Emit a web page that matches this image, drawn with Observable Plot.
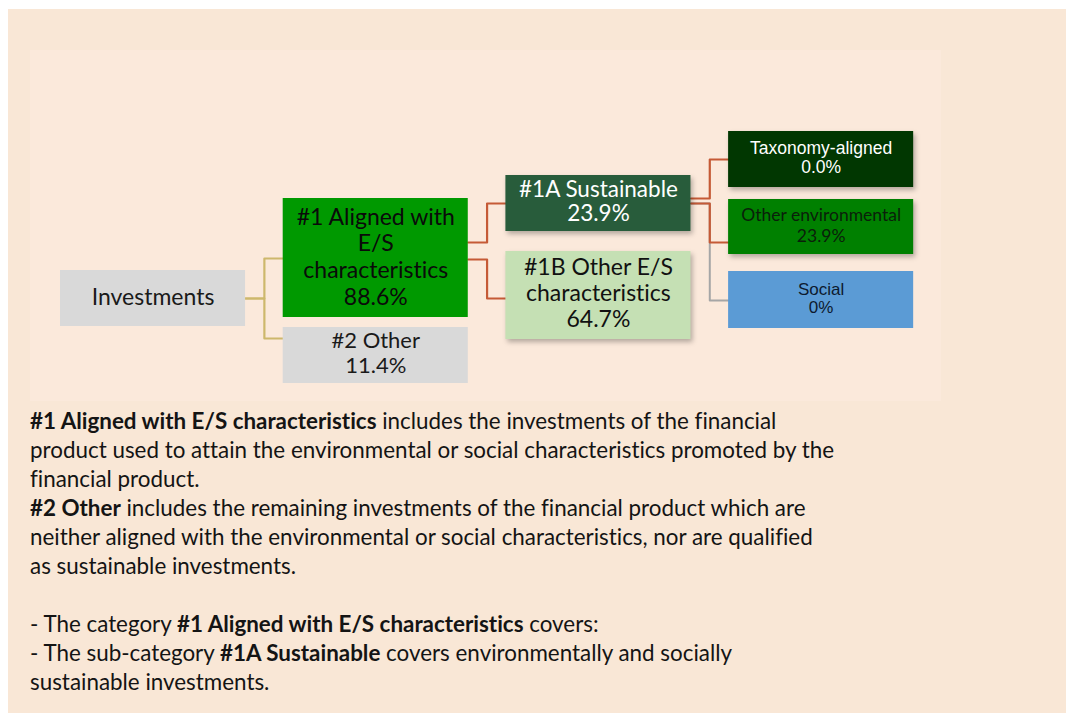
<!DOCTYPE html>
<html><head><meta charset="utf-8">
<script src="https://cdn.jsdelivr.net/npm/d3@7"></script>
<script src="https://cdn.jsdelivr.net/npm/@observablehq/plot@0.6"></script>
<style>
html,body{margin:0;padding:0;background:#fff;width:1068px;height:715px;overflow:hidden;}
#frame{position:absolute;left:8px;top:9px;width:1058px;height:704px;background:#f9e7d6;}
#inner{position:absolute;left:30px;top:50px;width:911px;height:351px;background:#fbe9db;}
#chart{position:absolute;left:0;top:0;}
#chart svg{font-variant-ligatures:none;}
#desc{position:absolute;left:30px;top:406px;font-family:Lato, sans-serif;font-size:22.4px;line-height:29px;color:#141414;white-space:nowrap;font-variant-ligatures:none;}
#desc b{font-weight:700;}
#desc div{height:29px;}
</style></head><body>
<div id="frame"></div><div id="inner"></div><div id="chart"></div>
<div id="desc">
<div><b>#1 Aligned with E/S characteristics</b> includes the investments of the financial</div>
<div>product used to attain the environmental or social characteristics promoted by the</div>
<div>financial product.</div>
<div><b>#2 Other</b> includes the remaining investments of the financial product which are</div>
<div>neither aligned with the environmental or social characteristics, nor are qualified</div>
<div>as sustainable investments.</div>
<div></div>
<div>- The category <b>#1 Aligned with E/S characteristics</b> covers:</div>
<div>- The sub-category <b>#1A Sustainable</b> covers environmentally and socially</div>
<div>sustainable investments.</div>
</div>
<script>
// ---- data ----
const nodeNames = ["Investments", "#1 Aligned with E/S characteristics", "#2 Other", "#1A Sustainable", "#1B Other E/S characteristics", "Taxonomy-aligned", "Other environmental", "Social"];
const nodeParents = [null, 0, 0, 1, 1, 3, 3, 3];
const nodeValues = [100, 88.6, 11.4, 23.9, 64.7, 0.0, 23.9, 0];
const nodeValueLabels = ["", "88.6%", "11.4%", "23.9%", "64.7%", "0.0%", "23.9%", "0%"];
const nodeNameLines = [["Investments"], ["#1 Aligned with", "E/S", "characteristics"], ["#2 Other"], ["#1A Sustainable"], ["#1B Other E/S", "characteristics"], ["Taxonomy-aligned"], ["Other environmental"], ["Social"]];

// ---- styles ----
const boxFill = ["#d9d9d9", "#009900", "#d9d9d9", "#285c3b", "#c5e0b4", "#013701", "#008000", "#5b9bd5"];
const textFill = ["#1a1a1a", "#0a0a0a", "#1a1a1a", "#ffffff", "#111111", "#ffffff", "#0a200a", "#0d1a2e"];
const textFont = ["Lato", "Lato", "Lato", "Lato", "Lato", "Liberation Sans", "Lato", "Liberation Sans"];
const textSize = [23, 23, 22, 22.5, 23, 17.5, 17.5, 17];
const textLineHeight = [1.0, 1.16, 1.16, 1.08, 1.13, 1.08, 1.18, 1.08];
const textDy = [-1, -2, -3, -2, -3, -2, -2, -2];
const linkStroke = [null, "#cdb86c", "#cdb86c", "#c55a36", "#c55a36", "#c55a36", "#c55a36", "#a6a6a6"];
const shadowed = [false, false, false, true, true, true, true, false];

// ---- layout (diagram geometry in layout units) ----
const boxWidth = 0.831;          // column units
const layoutTop = [270, 198, 327, 175, 251, 131, 199, 271];
const layoutBottom = [326, 317, 383, 231, 339, 187, 254, 328];
const linkExit = [null, 298, 298, 242, 259, 198, 203, 203];
const linkEntry = [null, 258, 338, 203, 298, 159, 242, 300];

const depth = nodeNames.map((_, i) => { let d = 0, p = nodeParents[i]; while (p != null) { d++; p = nodeParents[p]; } return d; });
const nodes = nodeNames.map((name, i) => ({
  i, name, value: nodeValues[i], depth: depth[i],
  x1: depth[i], x2: depth[i] + boxWidth,
  y1: layoutTop[i], y2: layoutBottom[i],
  label: nodeNameLines[i].concat(nodeValueLabels[i] ? [nodeValueLabels[i]] : []).join("\n")
}));

const linkPts = [];
nodes.forEach((n, i) => {
  const p = nodeParents[i];
  if (p == null) return;
  const sx = depth[p] + boxWidth, tx = depth[i], mx = (sx + tx) / 2;
  const pts = [[sx, linkExit[i]], [mx, linkExit[i]], [mx, linkEntry[i]], [tx, linkEntry[i]]];
  pts.forEach(([x, y]) => linkPts.push({link: i, x, y, stroke: linkStroke[i], order: linkStroke[i] === "#a6a6a6" ? 0 : 1}));
});

const W = 1068, H = 400;
const x0 = 60, colStep = 222.7;

const textMarks = nodes.map((n, i) => Plot.text([n], {
  x: d => (d.x1 + d.x2) / 2, y: d => (d.y1 + d.y2) / 2, text: "label",
  fill: textFill[i], fontFamily: textFont[i], fontSize: textSize[i], lineHeight: textLineHeight[i],
  textAnchor: "middle", lineAnchor: "middle", dy: textDy[i]
}));

const chart = Plot.plot({
  width: W, height: H,
  margin: 0,
  x: {domain: [-x0 / colStep, (W - x0) / colStep], range: [0, W]},
  y: {domain: [0, H], range: [0, H]},
  axis: null,
  style: {background: "transparent", overflow: "visible"},
  marks: [
    Plot.line(linkPts.filter(d => d.order === 0), {x: "x", y: "y", z: "link", stroke: "stroke", strokeWidth: 2, curve: "linear"}),
    Plot.line(linkPts.filter(d => d.order === 1), {x: "x", y: "y", z: "link", stroke: "stroke", strokeWidth: 2.2, curve: "linear"}),
    Plot.rect(nodes, {x1: "x1", x2: "x2", y1: "y1", y2: "y2", fill: d => boxFill[d.i]}),
    ...textMarks
  ]
});
document.getElementById("chart").appendChild(chart);
chart.querySelectorAll('g[aria-label="rect"] rect').forEach((r, k) => {
  if (shadowed[k]) r.style.filter = "drop-shadow(2px 3px 2.5px rgba(0,0,0,0.28))";
});
</script>
</body></html>
